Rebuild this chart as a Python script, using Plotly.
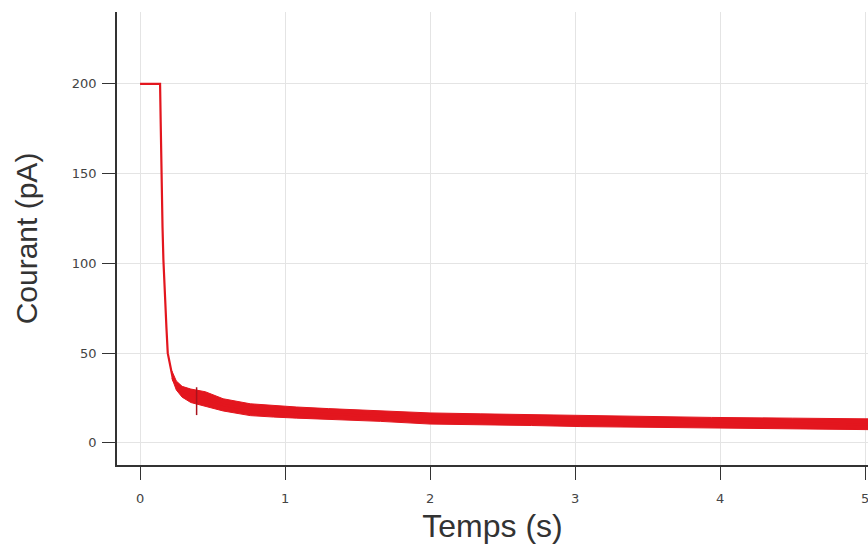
import plotly.graph_objects as go

# Trace centre line (time in s, current in pA)
t = [0.0, 0.138, 0.142, 0.148, 0.155, 0.161, 0.167, 0.173, 0.182, 0.191, 0.2,
     0.207, 0.218, 0.228, 0.242, 0.256, 0.275, 0.29, 0.32, 0.36, 0.394, 0.46,
     0.573, 0.76, 0.92, 1.08, 1.3, 1.657, 2.0, 2.35, 2.7, 3.04, 3.5, 3.94, 4.5, 5.02]
courant = [200, 200, 180, 146, 120, 102, 88, 80, 64, 50, 46,
           43.5, 39, 35, 33.5, 32, 30, 28.5, 27.5, 26.5, 25.6, 24.8,
           21.2, 18.5, 17.6, 16.9, 16.0, 15.0, 13.6, 13.2, 12.7, 12.1, 11.7, 11.2, 10.8, 10.4]

# Noise band envelope
band_t = [0.22, 0.25, 0.29, 0.35, 0.45, 0.573, 0.76, 0.92, 1.08, 1.3, 1.657, 2.0,
          2.35, 2.7, 3.04, 3.5, 3.94, 4.5, 5.02]
band_hi = [40.0, 34.5, 31.5, 30.0, 28.5, 24.6, 21.8, 20.8, 20.0, 19.1, 18.0, 16.7,
           16.2, 15.7, 15.1, 14.7, 14.2, 13.8, 13.4]
band_lo = [36.0, 29.5, 25.5, 22.5, 20.5, 17.8, 15.2, 14.4, 13.8, 12.9, 12.0, 10.5,
           10.2, 9.7, 9.1, 8.7, 8.2, 7.8, 7.4]

# Artefact spike
spike_t = [0.39, 0.39]
spike_i = [31.0, 15.5]

x_ticks = [0, 1, 2, 3, 4, 5]
y_ticks = [0, 50, 100, 150, 200]

red = "#e3161e"
font_family = "Liberation Sans, Arial, sans-serif"
tick_family = "DejaVu Sans, Arial, sans-serif"

fig = go.Figure()
fig.add_trace(go.Scatter(x=band_t + band_t[::-1], y=band_hi + band_lo[::-1],
                         fill="toself", fillcolor=red, line=dict(color=red, width=1),
                         mode="lines", hoverinfo="skip", showlegend=False))
fig.add_trace(go.Scatter(x=t, y=courant, mode="lines",
                         line=dict(color=red, width=2.2), showlegend=False))
fig.add_trace(go.Scatter(x=spike_t, y=spike_i, mode="lines",
                         line=dict(color="#a8121c", width=1.5), showlegend=False))

axis_common = dict(
    showline=True, linecolor="#333333", linewidth=1.5,
    ticks="outside", ticklen=13, tickwidth=1.3, tickcolor="#333333",
    showgrid=True, gridcolor="#e4e4e4", gridwidth=1, zeroline=False,
    automargin=False, ticklabeloverflow="allow",
    tickfont=dict(family=tick_family, size=13, color="#444444"),
)

fig.update_layout(
    width=868, height=544,
    margin=dict(l=117, r=0, t=12, b=79),
    paper_bgcolor="white", plot_bgcolor="white",
    xaxis=dict(range=[-0.159, 5.02], tickvals=x_ticks, ticklabelstandoff=8,
               title=dict(text="Temps (s)", standoff=22,
                          font=dict(family=font_family, size=32, color="#333333")),
               **axis_common),
    yaxis=dict(range=[-12.3, 240], tickvals=y_ticks, ticklabelstandoff=3,
               title=dict(text="Courant (pA)", standoff=25,
                          font=dict(family=font_family, size=30, color="#333333")),
               **axis_common),
)

fig.write_html("out.html", config={"displayModeBar": False},
               post_script="document.body.style.margin='0';")
